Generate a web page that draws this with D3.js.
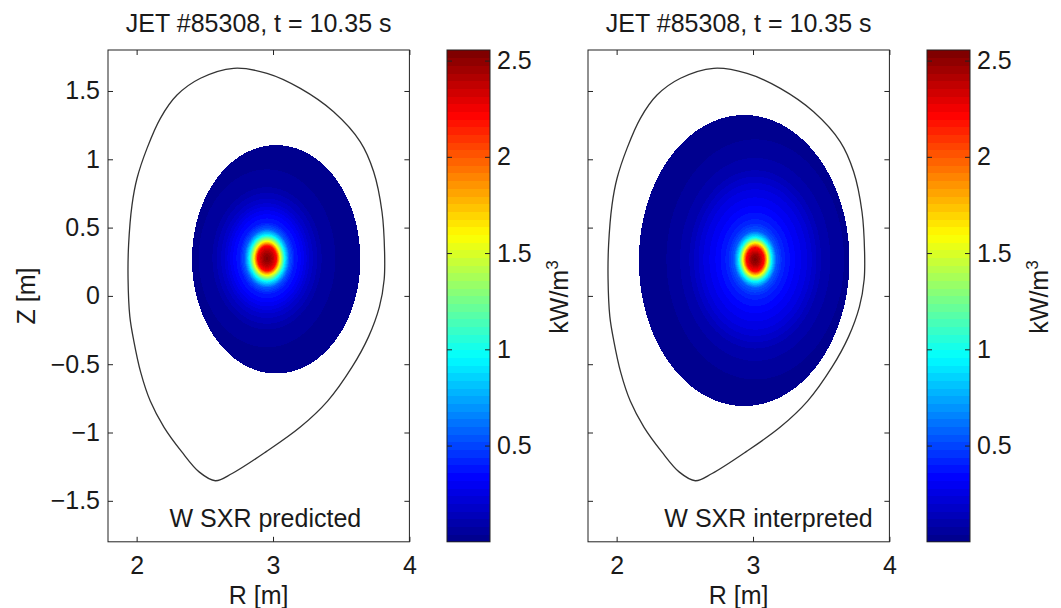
<!DOCTYPE html>
<html>
<head>
<meta charset="utf-8">
<script src="https://cdn.jsdelivr.net/npm/d3@7"></script>
<style>
  body { margin: 0; background: #fff; }
  svg text { font-family: "Liberation Sans", Arial, sans-serif; fill: #1a1a1a; }
</style>
</head>
<body>
<div id="chart"></div>
<script>
// Separatrix of JET #85308 at 10.35 s (metres)
const sepR = [3.818, 3.799, 3.738, 3.640, 3.444, 3.200, 2.956, 2.711, 2.468, 2.296, 2.174, 2.076, 2.003, 1.966, 1.941, 1.937,
              1.950, 1.978, 2.030, 2.100, 2.200, 2.330, 2.460, 2.577, 2.700, 2.950, 3.200, 3.400, 3.580, 3.700, 3.780, 3.815];
const sepZ = [0.323, 0.616, 0.909, 1.128, 1.348, 1.519, 1.629, 1.666, 1.593, 1.470, 1.300, 1.080, 0.861, 0.665, 0.372, 0.128,
              -0.150, -0.323, -0.560, -0.770, -0.960, -1.140, -1.290, -1.353, -1.300, -1.140, -0.960, -0.770, -0.520, -0.300, -0.080, 0.120];

const rTicks = [2, 3, 4];
const zTicks = [-1.5, -1, -0.5, 0, 0.5, 1, 1.5];
const cbTicks = [0.5, 1, 1.5, 2, 2.5];
const cbMax = 2.555;

const panelTitles = ["JET #85308, t = 10.35 s", "JET #85308, t = 10.35 s"];
const panelLabels = ["W SXR predicted", "W SXR interpreted"];
const labelPos = [[2.944, -1.69], [3.114, -1.69]];

// emitting region [R centre, Z centre, half width, half height]
const regions = [[3.023, 0.268, 0.617, 0.836], [2.935, 0.259, 0.772, 1.065]];
// hot spot [R, Z] and its vertical stretch
const peaks = [[2.956, 0.275], [3.016, 0.267]];
const peakElong = [1.3, 1.35];

// emissivity (kW/m3) against distance from the hot spot (m)
const predDist = [0, 0.03, 0.05, 0.07, 0.095, 0.13, 0.165, 0.2, 0.26, 0.32, 0.4, 0.5, 0.7];
const predEmis = [2.55, 2.45, 2.35, 2.2, 1.6, 0.95, 0.55, 0.4, 0.3, 0.18, 0.08, 0.04, 0.02];
const interpDist = [0, 0.03, 0.05, 0.065, 0.09, 0.12, 0.155, 0.2, 0.28, 0.38, 0.5, 0.65, 0.9];
const interpEmis = [2.55, 2.45, 2.3, 2.2, 1.6, 0.95, 0.55, 0.42, 0.33, 0.24, 0.1, 0.04, 0.02];

const profiles = [
    d3.scaleLinear().domain(predDist).range(predEmis).clamp(true),
    d3.scaleLinear().domain(interpDist).range(interpEmis).clamp(true)
];

// jet colormap, 64 levels like the colorbar
const jet = d3.scaleLinear()
    .domain([0, 0.125, 0.375, 0.625, 0.875, 1])
    .range(["#00008f", "#0000ff", "#00ffff", "#ffff00", "#ff0000", "#800000"]);
const nBins = 64;
const binColors = d3.range(nBins).map(i => d3.rgb(jet(i / (nBins - 1))));
const binOf = v => Math.max(0, Math.min(nBins - 1, Math.floor(v / cbMax * nBins)));

const width = 1061, height = 608;
const W = 301.4, H = 491.8;   // plot area
const panelShift = 480;
const fs = 25;

const svg = d3.select("#chart").append("svg")
    .attr("width", width)
    .attr("height", height);

const x = d3.scaleLinear().domain([1.79, 4]).range([0, W]);
const y = d3.scaleLinear().domain([-1.8, 1.8]).range([H, 0]);
const cScale = d3.scaleLinear().domain([0, cbMax]).range([H, 0]);

function styleAxis(g) {
    g.select(".domain").remove();
    g.attr("font-size", fs)
     .attr("font-family", '"Liberation Sans", Arial, sans-serif')
     .attr("color", "#1a1a1a");
    g.selectAll(".tick line").attr("stroke", "#222").attr("stroke-width", 1);
}

[0, 1].forEach(p => {
    const g = svg.append("g")
        .attr("transform", `translate(${108 + p * panelShift},50)`);

    // emissivity field drawn to a canvas, then placed as an image
    const cw = Math.round(W), ch = Math.round(H);
    const canvas = document.createElement("canvas");
    canvas.width = cw; canvas.height = ch;
    const ctx = canvas.getContext("2d");
    const img = ctx.createImageData(cw, ch);
    const [rc, zc, a, b] = regions[p];
    const [pr, pz] = peaks[p];
    for (let j = 0; j < ch; j++) {
        for (let i = 0; i < cw; i++) {
            const R = x.invert(i + 0.5), Z = y.invert(j + 0.5);
            if (((R - rc) / a) ** 2 + ((Z - zc) / b) ** 2 > 1) continue;
            const d = Math.hypot(R - pr, (Z - pz) / peakElong[p]);
            const c = binColors[binOf(profiles[p](d))];
            const k = (j * cw + i) * 4;
            img.data[k] = c.r; img.data[k + 1] = c.g; img.data[k + 2] = c.b; img.data[k + 3] = 255;
        }
    }
    ctx.putImageData(img, 0, 0);
    g.append("image")
        .attr("x", 0).attr("y", 0)
        .attr("width", cw).attr("height", ch)
        .attr("href", canvas.toDataURL());

    // separatrix
    const sep = d3.line()
        .x(d => x(d[0]))
        .y(d => y(d[1]))
        .curve(d3.curveCatmullRomClosed.alpha(0.5));
    g.append("path")
        .datum(d3.zip(sepR, sepZ))
        .attr("d", sep)
        .attr("fill", "none")
        .attr("stroke", "#333")
        .attr("stroke-width", 1.3);

    // axes, ticks inward on all four sides
    g.append("g").attr("transform", `translate(0,${H})`)
        .call(d3.axisBottom(x).tickValues(rTicks).tickSizeInner(-5).tickSizeOuter(0).tickPadding(14).tickFormat(d3.format("d")))
        .call(styleAxis);
    g.append("g")
        .call(d3.axisTop(x).tickValues(rTicks).tickSizeInner(-5).tickSizeOuter(0).tickFormat(""))
        .call(styleAxis);
    g.append("g")
        .call(d3.axisLeft(y).tickValues(zTicks).tickSizeInner(-5).tickSizeOuter(0).tickPadding(8)
            .tickFormat(p === 0 ? d3.format("") : ""))
        .call(styleAxis);
    g.append("g").attr("transform", `translate(${W},0)`)
        .call(d3.axisRight(y).tickValues(zTicks).tickSizeInner(-5).tickSizeOuter(0).tickFormat(""))
        .call(styleAxis);

    g.append("rect")
        .attr("width", W).attr("height", H)
        .attr("fill", "none").attr("stroke", "#222").attr("stroke-width", 1);

    // title and labels
    g.append("text")
        .attr("x", W / 2).attr("y", -18.5)
        .attr("text-anchor", "middle")
        .attr("font-size", fs)
        .text(panelTitles[p]);

    g.append("text")
        .attr("x", x(labelPos[p][0])).attr("y", y(labelPos[p][1]))
        .attr("text-anchor", "middle")
        .attr("font-size", fs)
        .text(panelLabels[p]);

    g.append("text")
        .attr("x", W / 2).attr("y", H + 62.5)
        .attr("text-anchor", "middle")
        .attr("font-size", fs)
        .text("R [m]");

    if (p === 0) {
        g.append("text")
            .attr("transform", `translate(${35 - 108},${246}) rotate(-90)`)
            .attr("text-anchor", "middle")
            .attr("font-size", fs)
            .text("Z [m]");
    }

    // colorbar
    const cb = svg.append("g")
        .attr("transform", `translate(${447 + p * panelShift},50)`);
    const cbW = 43;
    cb.selectAll("rect.bin")
        .data(d3.range(nBins))
        .join("rect")
        .attr("class", "bin")
        .attr("x", 0)
        .attr("width", cbW)
        .attr("y", i => cScale((i + 1) * cbMax / nBins))
        .attr("height", i => cScale(i * cbMax / nBins) - cScale((i + 1) * cbMax / nBins) + 0.5)
        .attr("fill", i => binColors[i])
        .attr("shape-rendering", "crispEdges");

    cb.append("g").attr("transform", `translate(${cbW},0)`)
        .call(d3.axisRight(cScale).tickValues(cbTicks).tickSizeInner(-5).tickSizeOuter(0).tickPadding(7).tickFormat(d3.format("")))
        .call(styleAxis);
    cb.append("g")
        .call(d3.axisLeft(cScale).tickValues(cbTicks).tickSizeInner(-5).tickSizeOuter(0).tickFormat(""))
        .call(styleAxis);
    cb.append("rect")
        .attr("width", cbW).attr("height", H)
        .attr("fill", "none").attr("stroke", "#222").attr("stroke-width", 1);

    const unit = cb.append("text")
        .attr("transform", `translate(121,247) rotate(-90)`)
        .attr("text-anchor", "middle")
        .attr("font-size", fs);
    unit.append("tspan").text("kW/m");
    unit.append("tspan").attr("font-size", 17).attr("dy", -10).text("3");
});
</script>
</body>
</html>
